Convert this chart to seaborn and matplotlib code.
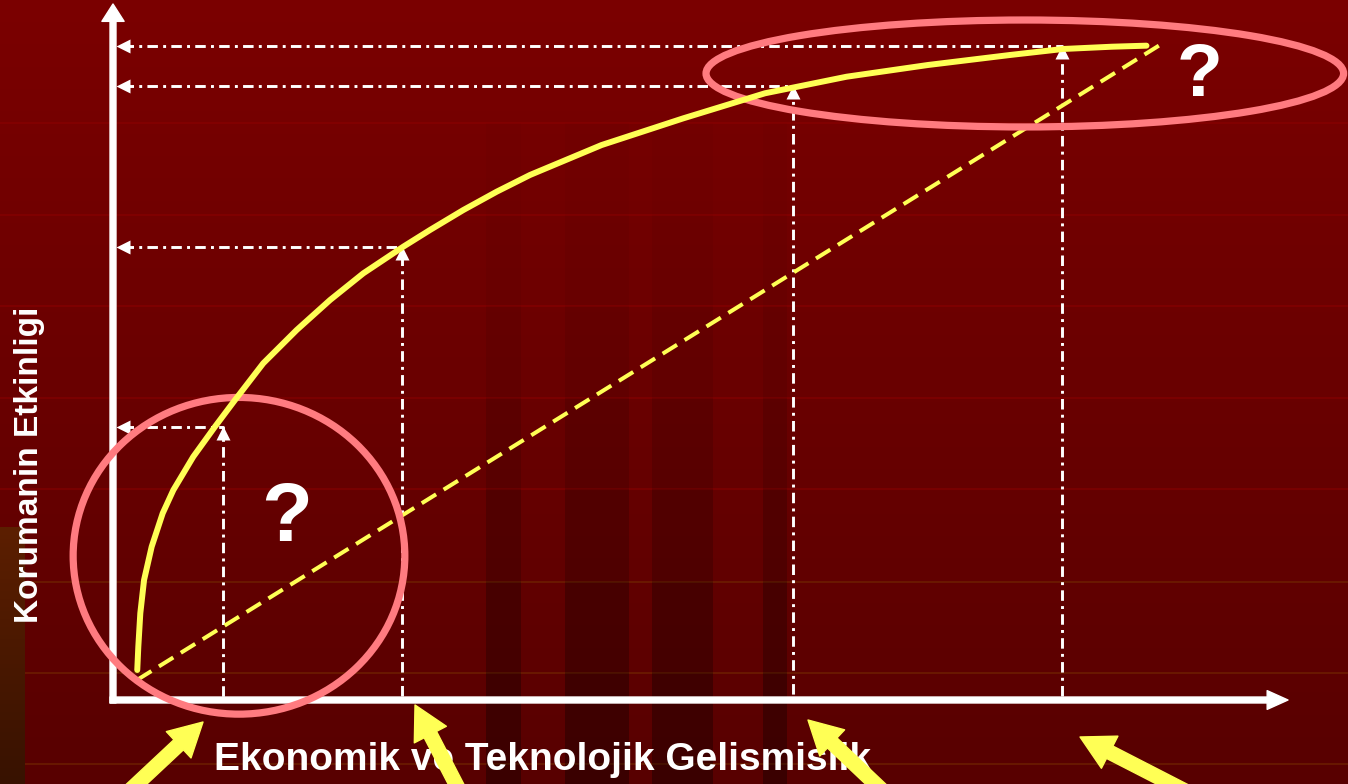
import numpy as np
import matplotlib
matplotlib.use("Agg")
import matplotlib.pyplot as plt
import seaborn as sns
from matplotlib.patches import Ellipse, Rectangle

# ---------------- data (conceptual units: 0..100 on both axes) ----------------
curve_x = [2.07, 2.16, 2.33, 2.65, 3.30, 4.24, 5.15, 6.85, 8.70, 10.41, 12.82,
           15.67, 18.52, 21.36, 24.77, 27.05, 29.89, 32.74, 35.58, 41.69, 48.66,
           55.63, 62.59, 69.54, 76.54, 81.06, 85.24, 88.18]
curve_y = [4.35, 7.72, 12.57, 17.39, 22.22, 27.06, 30.43, 35.26, 39.61, 43.48,
           48.80, 53.62, 57.97, 61.84, 65.70, 68.12, 71.01, 73.67, 76.09, 80.43,
           84.30, 87.93, 90.33, 92.03, 93.48, 94.35, 94.68, 94.83]
linear_x = [2.05, 89.3]
linear_y = [2.9, 94.9]
ref_x = [9.4, 24.7, 58.0, 81.0]
ref_y = [39.6, 65.7, 89.0, 94.8]

ellipse_cx = [10.75, 77.8]
ellipse_cy = [20.9, 90.8]
ellipse_w = [28.3, 54.4]
ellipse_h = [45.9, 15.5]

qmark_x = [14.85, 92.75]
qmark_y = [26.3, 90.4]
qmark_text = ["?", "?"]

arrow_tip_x = [7.68, 25.77, 59.30, 82.51]
arrow_tip_y = [-3.19, -0.72, -2.90, -5.36]
arrow_tail_x = [0.5, 30.0, 66.2, 91.5]
arrow_tail_y = [-14.6, -14.6, -14.0, -13.2]

x_label = "Ekonomik ve Teknolojik Gelismislik"
y_label = "Korumanin Etkinligi"

# ---------------- layout ----------------
W, H = 1348, 784
PX_X, PX_Y = 11.72, 6.9            # pixels per unit
OX, OY = 113, 700                  # origin in pixels
XLIM = (-OX / PX_X, (W - OX) / PX_X)
YLIM = ((OY - H) / PX_Y, OY / PX_Y)

def ux(px):
    return (px - OX) / PX_X

def uy(py):
    return (OY - py) / PX_Y

sns.set_theme(style="white")
plt.rcParams["font.family"] = ["Liberation Sans", "DejaVu Sans"]

fig = plt.figure(figsize=(W / 100, H / 100), dpi=100)
ax = fig.add_axes([0, 0, 1, 1])
ax.set_xlim(*XLIM)
ax.set_ylim(*YLIM)
ax.axis("off")

# background gradient
n = 256
grad = np.zeros((n, 1, 3))
grad[:, 0, 0] = np.linspace(0.482, 0.345, n)
ax.imshow(grad, extent=(XLIM[0], XLIM[1], YLIM[0], YLIM[1]), aspect="auto",
          origin="upper", zorder=0, interpolation="bilinear")

# faint horizontal template lines
bg_lines = [123, 215, 306, 398, 489, 582, 673, 764]
for py in bg_lines:
    if py < 560:
        ax.axhline(uy(py), color="#900000", lw=1.2, alpha=0.55, zorder=1)
    else:
        ax.axhline(uy(py), color="#702400", lw=1.2, alpha=0.8, zorder=1)

# darker vertical stripes (per row)
stripes = [(486, 521), (565, 629), (652, 713), (763, 787)]
rows = [(123, 215, 0.02), (215, 306, 0.04), (306, 398, 0.07), (398, 489, 0.12),
        (489, 582, 0.18), (582, 673, 0.25), (673, 764, 0.31), (764, 784, 0.34)]
for (x0, x1) in stripes:
    for (y0, y1, a) in rows:
        ax.add_patch(Rectangle((ux(x0), uy(y1)), ux(x1) - ux(x0), uy(y0) - uy(y1),
                               facecolor="black", alpha=a, lw=0, zorder=1))

# brown strip on the left bottom
lg = np.zeros((64, 1, 3))
lg[:, 0, 0] = np.linspace(0.36, 0.22, 64)
lg[:, 0, 1] = np.linspace(0.12, 0.07, 64)
ax.imshow(lg, extent=(ux(0), ux(25), uy(784), uy(527)), aspect="auto",
          origin="upper", zorder=1)
ax.set_xlim(*XLIM)
ax.set_ylim(*YLIM)

# dash-dot reference lines with small arrowheads
dd = (0, (3.6, 1.8, 1, 1.8))
hx_off = 6.5 / PX_X
vy_off = 6.5 / PX_Y
tip_left = ux(116)
for rx, ry in zip(ref_x, ref_y):
    ax.plot([tip_left + hx_off, rx, rx], [ry, ry, 0], color="white", lw=2.1,
            linestyle=dd, zorder=3)
    ax.plot([tip_left + hx_off], [ry], marker="<", ms=9.5, color="white",
            mec="none", zorder=3)
    ax.plot([rx], [ry - vy_off], marker="^", ms=9.5, color="white",
            mec="none", zorder=3)

# linear (dashed) relationship
sns.lineplot(x=linear_x, y=linear_y, ax=ax, color="#ffff55", lw=2.9,
             linestyle=(0, (4.2, 2.2)), zorder=4, sort=False)

# axes with arrows
ax.annotate("", xy=(0, uy(4)), xytext=(0, uy(703)),
            arrowprops=dict(arrowstyle="simple,head_length=1.25,head_width=1.6,tail_width=0.43",
                            mutation_scale=10, color="white", shrinkA=0, shrinkB=0),
            zorder=5, annotation_clip=False)
ax.annotate("", xy=(ux(1288), 0), xytext=(ux(110), 0),
            arrowprops=dict(arrowstyle="simple,head_length=1.5,head_width=1.35,tail_width=0.43",
                            mutation_scale=10, color="white", shrinkA=0, shrinkB=0),
            zorder=5, annotation_clip=False)

# pink ellipses
for cx, cy, w, h in zip(ellipse_cx, ellipse_cy, ellipse_w, ellipse_h):
    ax.add_patch(Ellipse((cx, cy), w, h, fill=False, edgecolor="#ff7b80",
                         lw=5.2, zorder=6))

# main curve
sns.lineplot(x=curve_x, y=curve_y, ax=ax, color="#ffff55", lw=4.3, zorder=7,
             sort=False, solid_capstyle="round", solid_joinstyle="round")

# question marks
for qx, qy, t, fs in zip(qmark_x, qmark_y, qmark_text, [60, 54]):
    ax.text(qx, qy, t, color="white", fontsize=fs, fontweight="bold",
            ha="center", va="center", zorder=8)

# yellow pointer arrows
for tx, ty, sx, sy in zip(arrow_tip_x, arrow_tip_y, arrow_tail_x, arrow_tail_y):
    ax.annotate("", xy=(tx, ty), xytext=(sx, sy),
                arrowprops=dict(arrowstyle="simple,head_length=2.4,head_width=2.6,tail_width=1.0",
                                mutation_scale=10, color="#ffff55", shrinkA=0, shrinkB=0),
                zorder=9, annotation_clip=False)

# axis titles
ax.text(ux(543), uy(760), x_label, color="white", fontsize=28, fontweight="bold",
        ha="center", va="center", zorder=8)
ax.text(ux(29), uy(465), y_label, color="white", fontsize=24, fontweight="bold",
        ha="center", va="center", rotation=90, zorder=8)

fig.savefig("out.png", dpi=100)
